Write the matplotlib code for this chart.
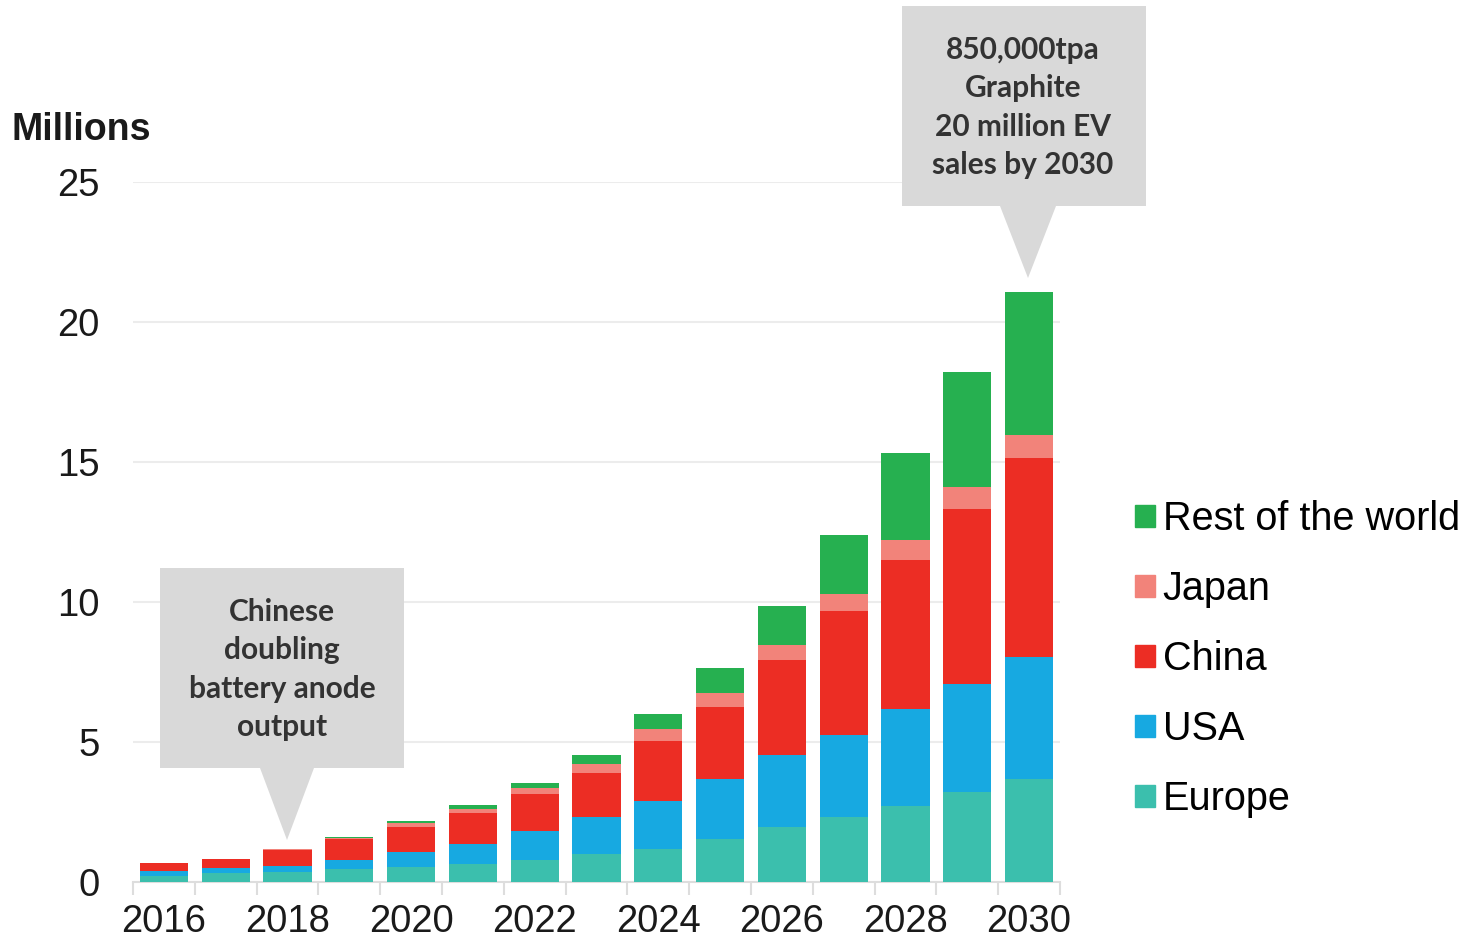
import matplotlib
matplotlib.use("Agg")
import matplotlib.pyplot as plt
from matplotlib.patches import Patch, Polygon
import numpy as np

# EV sales by region, millions
years = list(range(2016, 2031))
europe = [0.22, 0.31, 0.36, 0.45, 0.52, 0.64, 0.80, 0.99, 1.18, 1.55, 1.95, 2.31, 2.71, 3.23, 3.67]
usa = [0.17, 0.18, 0.22, 0.34, 0.55, 0.72, 1.02, 1.34, 1.72, 2.12, 2.60, 2.94, 3.47, 3.83, 4.38]
china = [0.28, 0.32, 0.57, 0.74, 0.90, 1.09, 1.31, 1.55, 2.15, 2.59, 3.38, 4.43, 5.31, 6.25, 7.09]
japan = [0.01, 0.01, 0.02, 0.04, 0.15, 0.17, 0.24, 0.33, 0.40, 0.50, 0.53, 0.59, 0.72, 0.79, 0.84]
rest = [0.01, 0.01, 0.00, 0.03, 0.07, 0.12, 0.18, 0.34, 0.55, 0.88, 1.41, 2.12, 3.10, 4.11, 5.09]

names = ["Europe", "USA", "China", "Japan", "Rest of the world"]
colors = ["#3bbfad", "#17a9e1", "#ec2d24", "#f2837a", "#26b050"]

W, H = 1480, 944
fig = plt.figure(figsize=(W / 100, H / 100), dpi=100)

def fx(x):
    return x / W

def fy(y):
    return 1 - y / H

ax = fig.add_axes([fx(133), fy(882), fx(1060) - fx(133), fy(182) - fy(882)])

x = np.arange(len(years))
bottom = np.zeros(len(years))
for vals, c in zip([europe, usa, china, japan, rest], colors):
    ax.bar(x, vals, width=0.78, bottom=bottom, color=c, zorder=3)
    bottom += np.array(vals)

ax.set_xlim(-0.5, len(years) - 0.5)
ax.set_ylim(0, 25)
ax.set_yticks([0, 5, 10, 15, 20, 25])
ax.grid(axis="y", color="#ececec", linewidth=1.5, zorder=0)
for s in ["top", "right", "left"]:
    ax.spines[s].set_visible(False)
ax.spines["bottom"].set_color("#dddddd")
ax.spines["bottom"].set_linewidth(1.5)

ax.set_xticks(x[::2])
ax.set_xticklabels([str(y) for y in years[::2]])
ax.set_xticks(np.arange(-0.5, len(years), 1), minor=True)
ax.tick_params(axis="x", which="major", length=0, pad=16)
ax.tick_params(axis="x", which="minor", length=9, width=1.5, color="#dddddd")
ax.tick_params(axis="y", length=0, pad=24)
for lab in ax.get_xticklabels() + ax.get_yticklabels():
    lab.set_fontfamily("Liberation Sans")
    lab.set_fontsize(27.5)
    lab.set_color("#1a1a1a")

fig.text(fx(12), fy(130), "Millions", fontsize=27, fontweight="bold",
         family="Liberation Sans", va="center", ha="left", color="#1a1a1a")

handles = [Patch(color=c) for c in colors][::-1]
fig.legend(handles, names[::-1], loc="upper left", bbox_to_anchor=(fx(1135), fy(500)),
           frameon=False, prop={"family": "Liberation Sans", "size": 28.5},
           handlelength=0.5, handleheight=0.5, handletextpad=0.2, labelspacing=0.81,
           borderaxespad=0, borderpad=0)

# callouts
box_col = "#d9d9d9"

def callout(x0, y0, x1, y1, tip, base_w, lines, cx, ys):
    tx, ty = tip
    pts = [(x0, y0), (x1, y0), (x1, y1), (tx + base_w / 2, y1), (tx, ty),
           (tx - base_w / 2, y1), (x0, y1)]
    fig.patches.append(Polygon([(fx(a), fy(b)) for a, b in pts], closed=True,
                               transform=fig.transFigure, facecolor=box_col,
                               edgecolor="none", zorder=5))
    for t, yy in zip(lines, ys):
        fig.text(fx(cx), fy(yy), t, ha="center", va="center", fontsize=21.5,
                 fontweight="bold", family="Lato", color="#333333", zorder=6)

callout(160, 568, 404, 768, (287, 840), 54,
        ["Chinese", "doubling", "battery anode", "output"], 282, [612, 650, 689, 727])
callout(902, 6, 1146, 206, (1028, 278), 56,
        ["850,000tpa", "Graphite", "20 million EV", "sales by 2030"], 1023, [50, 88, 127, 165])

fig.savefig("out.png", dpi=100)
